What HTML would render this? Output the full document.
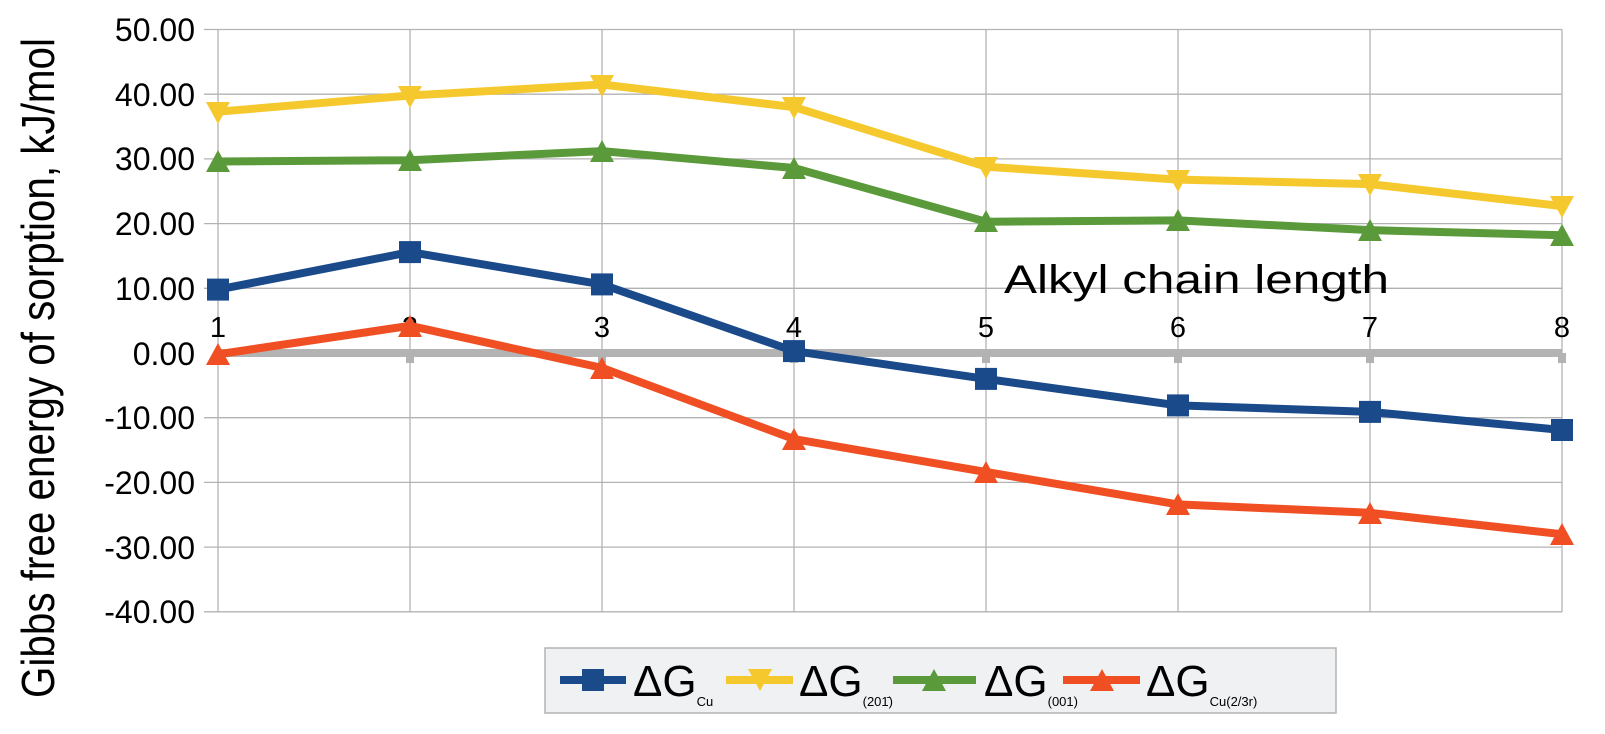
<!DOCTYPE html>
<html><head><meta charset="utf-8"><style>
html,body{margin:0;padding:0;background:#fff;}
svg{display:block;font-family:"Liberation Sans",Arial,sans-serif;}
</style></head><body>
<svg width="1605" height="734" viewBox="0 0 1605 734" xmlns="http://www.w3.org/2000/svg">
<g stroke="#b3b3b3" stroke-width="1.3" fill="none">
<line x1="204" y1="29.5" x2="1562" y2="29.5"/>
<line x1="204" y1="94.2" x2="1562" y2="94.2"/>
<line x1="204" y1="158.9" x2="1562" y2="158.9"/>
<line x1="204" y1="223.6" x2="1562" y2="223.6"/>
<line x1="204" y1="288.3" x2="1562" y2="288.3"/>
<line x1="204" y1="417.7" x2="1562" y2="417.7"/>
<line x1="204" y1="482.4" x2="1562" y2="482.4"/>
<line x1="204" y1="547.1" x2="1562" y2="547.1"/>
<line x1="204" y1="611.8" x2="1562" y2="611.8"/>
<line x1="218" y1="29.5" x2="218" y2="612"/>
<line x1="410" y1="29.5" x2="410" y2="612"/>
<line x1="602" y1="29.5" x2="602" y2="612"/>
<line x1="794" y1="29.5" x2="794" y2="612"/>
<line x1="986" y1="29.5" x2="986" y2="612"/>
<line x1="1178" y1="29.5" x2="1178" y2="612"/>
<line x1="1370" y1="29.5" x2="1370" y2="612"/>
<line x1="1562" y1="29.5" x2="1562" y2="612"/>
</g>
<g font-size="32" fill="#000" text-anchor="end">
<text x="195" y="41">50.00</text>
<text x="195" y="106">40.00</text>
<text x="195" y="170">30.00</text>
<text x="195" y="235">20.00</text>
<text x="195" y="300">10.00</text>
<text x="195" y="365">0.00</text>
<text x="195" y="429">-10.00</text>
<text x="195" y="494">-20.00</text>
<text x="195" y="559">-30.00</text>
<text x="195" y="623">-40.00</text>
</g>
<text transform="translate(54,368) rotate(-90)" font-size="46" text-anchor="middle" textLength="660" lengthAdjust="spacingAndGlyphs">Gibbs free energy of sorption, kJ/mol</text>
<g stroke="#b3b3b3" stroke-width="8">
<line x1="218" y1="353" x2="1562" y2="353"/>
<line x1="410" y1="353" x2="410" y2="363"/>
<line x1="602" y1="353" x2="602" y2="363"/>
<line x1="794" y1="353" x2="794" y2="363"/>
<line x1="986" y1="353" x2="986" y2="363"/>
<line x1="1178" y1="353" x2="1178" y2="363"/>
<line x1="1370" y1="353" x2="1370" y2="363"/>
<line x1="1562" y1="353" x2="1562" y2="363"/>
</g>
<g font-size="29" fill="#000" text-anchor="middle">
<text x="218" y="337">1</text><text x="410" y="337">2</text><text x="602" y="337">3</text><text x="794" y="337">4</text>
<text x="986" y="337">5</text><text x="1178" y="337">6</text><text x="1370" y="337">7</text><text x="1562" y="337">8</text>
</g>
<text x="1004" y="293" font-size="40" textLength="385" lengthAdjust="spacingAndGlyphs">Alkyl chain length</text>
<polyline fill="none" stroke="#f5c92e" stroke-width="8" stroke-linejoin="round" points="218,111.7 410,95.5 602,84.5 794,107.1 986,166.7 1178,179.6 1370,184.1 1562,206.1"/>
<g fill="#f5c92e">
<path d="M206,102 h24 l-12,22 z"/>
<path d="M398,86 h24 l-12,22 z"/><path d="M590,75 h24 l-12,22 z"/><path d="M782,97 h24 l-12,22 z"/>
<path d="M974,157 h24 l-12,22 z"/><path d="M1166,170 h24 l-12,22 z"/><path d="M1358,174 h24 l-12,22 z"/><path d="M1550,196 h24 l-12,22 z"/>
</g>
<polyline fill="none" stroke="#5a9a3a" stroke-width="8" stroke-linejoin="round" points="218,161.5 410,160.2 602,151.1 794,168.0 986,221.7 1178,220.4 1370,230.1 1562,235.2"/>
<g fill="#5a9a3a">
<path d="M206,172 h24 l-12,-22 z"/><path d="M398,171 h24 l-12,-22 z"/><path d="M590,162 h24 l-12,-22 z"/><path d="M782,179 h24 l-12,-22 z"/>
<path d="M974,232 h24 l-12,-22 z"/><path d="M1166,231 h24 l-12,-22 z"/><path d="M1358,241 h24 l-12,-22 z"/><path d="M1550,246 h24 l-12,-22 z"/>
</g>
<polyline fill="none" stroke="#1b4a8a" stroke-width="8" stroke-linejoin="round" points="218,289.6 410,252.1 602,284.4 794,351.1 986,378.9 1178,405.4 1370,411.9 1562,430.0"/>
<g fill="#1b4a8a">
<rect x="207" y="278.6" width="22" height="22"/><rect x="399" y="241.1" width="22" height="22"/><rect x="591" y="273.4" width="22" height="22"/><rect x="783" y="340.1" width="22" height="22"/>
<rect x="975" y="367.9" width="22" height="22"/><rect x="1167" y="394.4" width="22" height="22"/><rect x="1359" y="400.9" width="22" height="22"/><rect x="1551" y="419" width="22" height="22"/>
</g>
<polyline fill="none" stroke="#f04e23" stroke-width="8" stroke-linejoin="round" points="218,354.3 410,325.8 602,367.9 794,439.1 986,472.0 1178,504.4 1370,512.8 1562,534.2"/>
<g fill="#f04e23">
<path d="M206,365 h24 l-12,-22 z"/><path d="M398,337 h24 l-12,-22 z"/><path d="M590,379 h24 l-12,-22 z"/><path d="M782,450 h24 l-12,-22 z"/>
<path d="M974,483 h24 l-12,-22 z"/><path d="M1166,515 h24 l-12,-22 z"/><path d="M1358,524 h24 l-12,-22 z"/><path d="M1550,545 h24 l-12,-22 z"/>
</g>
<rect x="545" y="648" width="791" height="65" fill="#f0f1f3" stroke="#b3b3b3" stroke-width="1.5"/>
<line x1="560" y1="680" x2="626" y2="680" stroke="#1b4a8a" stroke-width="8"/>
<rect x="582" y="669" width="22" height="22" fill="#1b4a8a"/>
<text x="633" y="696" font-size="44">ΔG<tspan font-size="13" dy="10">Cu</tspan></text>
<line x1="726" y1="680" x2="793" y2="680" stroke="#f5c92e" stroke-width="8"/>
<path d="M748,669 h24 l-12,22 z" fill="#f5c92e"/>
<text x="799" y="696" font-size="44">ΔG<tspan font-size="13" dy="10">(201̄)</tspan></text>
<line x1="893" y1="680" x2="976" y2="680" stroke="#5a9a3a" stroke-width="8"/>
<path d="M922,691 h24 l-12,-22 z" fill="#5a9a3a"/>
<text x="984" y="696" font-size="44">ΔG<tspan font-size="13" dy="10">(001)</tspan></text>
<line x1="1063" y1="680" x2="1140" y2="680" stroke="#f04e23" stroke-width="8"/>
<path d="M1090,691 h24 l-12,-22 z" fill="#f04e23"/>
<text x="1146" y="696" font-size="44">ΔG<tspan font-size="13" dy="10">Cu(2/3r)</tspan></text>
</svg>
</body></html>
